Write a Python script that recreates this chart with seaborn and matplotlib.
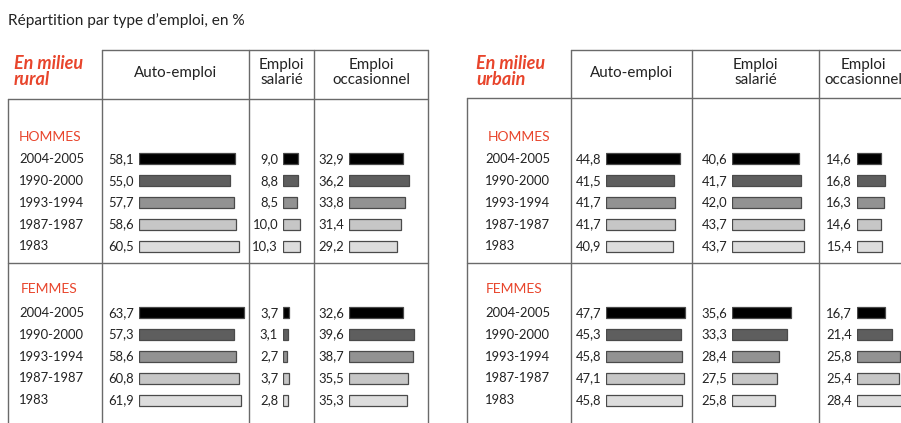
import matplotlib
matplotlib.use('Agg')
import matplotlib.pyplot as plt
import seaborn as sns
import pandas as pd

# Data
periods = ['2004-2005', '1990-2000', '1993-1994', '1987-1987', '1983']
columns = ['Auto-emploi', 'Emploi\nsalarié', 'Emploi\noccasionnel']
sections = ['HOMMES', 'FEMMES']

rural_hommes_auto = [58.1, 55.0, 57.7, 58.6, 60.5]
rural_hommes_sal = [9.0, 8.8, 8.5, 10.0, 10.3]
rural_hommes_occ = [32.9, 36.2, 33.8, 31.4, 29.2]
rural_femmes_auto = [63.7, 57.3, 58.6, 60.8, 61.9]
rural_femmes_sal = [3.7, 3.1, 2.7, 3.7, 2.8]
rural_femmes_occ = [32.6, 39.6, 38.7, 35.5, 35.3]

urbain_hommes_auto = [44.8, 41.5, 41.7, 41.7, 40.9]
urbain_hommes_sal = [40.6, 41.7, 42.0, 43.7, 43.7]
urbain_hommes_occ = [14.6, 16.8, 16.3, 14.6, 15.4]
urbain_femmes_auto = [47.7, 45.3, 45.8, 47.1, 45.8]
urbain_femmes_sal = [35.6, 33.3, 28.4, 27.5, 25.8]
urbain_femmes_occ = [16.7, 21.4, 25.8, 25.4, 28.4]

palette = ['#000000', '#5e5e5e', '#929292', '#c6c6c6', '#dddddd']

sns.set_style('white')
plt.rcParams['font.family'] = ['Lato', 'DejaVu Sans']

W, H = 901, 423
fig = plt.figure(figsize=(W / 100, H / 100), dpi=100)

RED = '#e8452c'
TXT = '#222222'
LINE = '#6a6a6a'
FS_NUM = 9.4     # digits (row labels, values)
FS_HEAD = 10.9   # column headers
FS_SEC = 10
PX_PER_UNIT = 1.65


def fx(x):
    return x / W


def fy(y):
    return 1 - y / H


# background axes in pixel space for the table rules
bg = fig.add_axes([0, 0, 1, 1])
bg.set_xlim(0, W)
bg.set_ylim(H, 0)
bg.axis('off')


def hline(y, x0, x1):
    bg.plot([x0, x1], [y, y], color=LINE, lw=1)


def vline(x, y0, y1):
    bg.plot([x, x], [y0, y1], color=LINE, lw=1)


panels = [
    dict(title='En milieu\nrural', left=8, cols=[102, 249, 314, 428], head_y=99,
         title_x=14, label_x=19, sec_x=[19, 21], bar_x=[139, 283, 349],
         data=[[rural_hommes_auto, rural_hommes_sal, rural_hommes_occ],
               [rural_femmes_auto, rural_femmes_sal, rural_femmes_occ]]),
    dict(title='En milieu\nurbain', left=467, cols=[571, 692, 819, 907], head_y=98,
         title_x=476, label_x=485, sec_x=[488, 486], bar_x=[606, 732, 857],
         data=[[urbain_hommes_auto, urbain_hommes_sal, urbain_hommes_occ],
               [urbain_femmes_auto, urbain_femmes_sal, urbain_femmes_occ]]),
]

top_y = 50
sep_y = 263
section_y = [137, 289]
first_row_y = [158.8, 312.7]
row_step = 21.9
bar_w_px = 110

fig.text(fx(8), fy(21), 'Répartition par type d’emploi, en %', fontsize=11.1,
         color=TXT, ha='left', va='center')

for p in panels:
    c = p['cols']
    # table rules
    hline(top_y, c[0], c[-1])
    hline(p['head_y'], p['left'], c[-1])
    hline(sep_y, p['left'], c[-1])
    vline(p['left'], p['head_y'], H)
    for x in c:
        vline(x, top_y, H)

    fig.text(fx(p['title_x']), fy(71.5), p['title'], fontsize=13, color=RED,
             fontweight='bold', fontstyle='italic', ha='left', va='center',
             linespacing=0.98)
    for j, name in enumerate(columns):
        fig.text(fx((c[j] + c[j + 1]) / 2), fy(72.5), name, fontsize=FS_HEAD, color=TXT,
                 ha='center', va='center', linespacing=1.15)

    for s, sec in enumerate(sections):
        fig.text(fx(p['sec_x'][s]), fy(section_y[s]), sec, fontsize=FS_SEC, color=RED,
                 ha='left', va='center')
        y_top = first_row_y[s] - row_step / 2
        y_bot = y_top + row_step * len(periods)
        for i, per in enumerate(periods):
            fig.text(fx(p['label_x']), fy(first_row_y[s] + i * row_step), per,
                     fontsize=FS_NUM, color=TXT, ha='left', va='center')
        for j in range(3):
            vals = p['data'][s][j]
            df = pd.DataFrame({'period': periods, 'value': vals})
            ax = fig.add_axes([fx(p['bar_x'][j]), fy(y_bot), bar_w_px / W,
                               (y_bot - y_top) / H])
            sns.barplot(data=df, y='period', x='value', hue='period', order=periods,
                        hue_order=periods, palette=palette, legend=False, orient='h',
                        width=0.5, edgecolor='#4a4a4a', linewidth=0.9, ax=ax)
            ax.set_xlim(0, bar_w_px / PX_PER_UNIT)
            ax.set_ylim(len(periods) - 0.5, -0.5)
            ax.axis('off')
            ax.patch.set_alpha(0)
            for i, v in enumerate(vals):
                ax.annotate(f'{v:.1f}'.replace('.', ','), xy=(0, i), xytext=(-3.5, 0),
                            textcoords='offset points', ha='right', va='center',
                            fontsize=FS_NUM, color=TXT, annotation_clip=False)

fig.savefig('out.png', dpi=100)
